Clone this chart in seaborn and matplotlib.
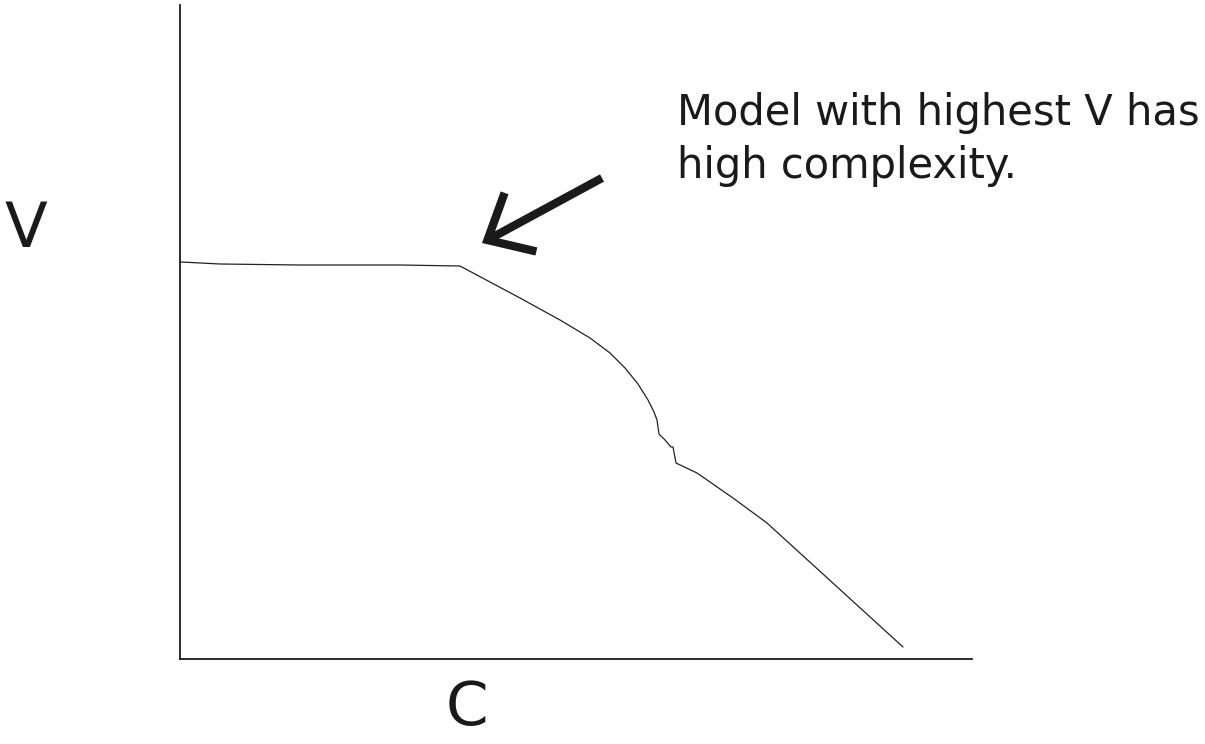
import matplotlib
matplotlib.use("Agg")
import matplotlib.pyplot as plt
import pandas as pd
import seaborn as sns

# curve (C = complexity, V = value), arbitrary units
c_vals = [1, 40, 120, 220, 280, 310, 340, 380, 410, 430, 445, 458, 468, 474,
          477, 479, 485, 491, 493, 496, 517, 553, 587, 723]
v_vals = [397, 395, 394, 394, 393, 377, 361, 339, 321, 306, 291, 275, 259, 247,
          239, 225, 219, 212, 212, 196, 186, 161, 136, 12]

arrow_tip = (302, 416)
arrow_tail = (422, 481)
note = "Model with highest V has\nhigh complexity."

df = pd.DataFrame({"C": c_vals, "V": v_vals})

sns.set_style("white")
plt.rcParams["font.family"] = ["DejaVu Sans"]

W, H = 1205, 744
fig = plt.figure(figsize=(W / 100, H / 100), dpi=100)
ax = fig.add_axes([180 / W, (H - 659) / H, (972 - 180) / W, (659 - 5) / H])

sns.lineplot(data=df, x="C", y="V", sort=False, estimator=None,
             color="#222222", lw=0.9, ax=ax)

ax.set_xlim(0, 792)
ax.set_ylim(0, 654)
ax.set_xticks([])
ax.set_yticks([])
ax.set_xlabel("")
ax.set_ylabel("")
for s in ["top", "right"]:
    ax.spines[s].set_visible(False)
for s in ["left", "bottom"]:
    ax.spines[s].set_color("#1a1a1a")
    ax.spines[s].set_linewidth(1.3)

ax.annotate("", xy=arrow_tip, xytext=arrow_tail,
            arrowprops=dict(arrowstyle="->,head_length=2.7,head_width=2.4",
                            lw=6, color="#1a1a1a", shrinkA=0, shrinkB=0,
                            mutation_scale=10, capstyle="butt",
                            joinstyle="miter"))

fig.text(677 / W, 1 - 92 / H, note, fontsize=30, ha="left", va="top",
         linespacing=1.32, color="#1a1a1a")
fig.text(26 / W, 1 - 230 / H, "V", fontsize=45, ha="center", va="center",
         color="#1a1a1a")
fig.text(467 / W, 1 - 708 / H, "C", fontsize=44, ha="center", va="center",
         color="#1a1a1a")

fig.savefig("out.png", dpi=100)
